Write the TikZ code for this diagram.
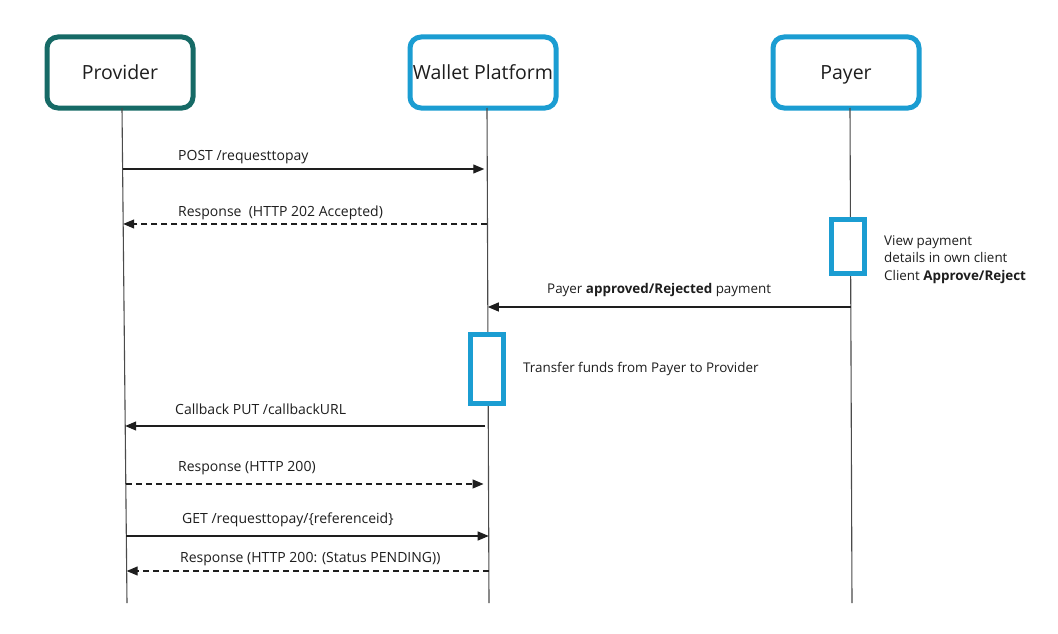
\documentclass[tikz,border=0pt]{standalone}
\usepackage{fontspec}
\setmainfont{Open Sans}
\usetikzlibrary{arrows.meta,calc}
\definecolor{teal}{RGB}{22,106,102}
\definecolor{wblue}{RGB}{27,157,210}
\definecolor{ink}{RGB}{30,30,30}
\tikzset{
  actor/.style={draw=#1,line width=5pt,rounded corners=11pt,fill=white,minimum width=146pt,minimum height=71pt,inner sep=0pt,text height=19pt,text depth=4pt,font=\fontsize{19.5}{22}\selectfont,text=ink},
  life/.style={draw=ink!80,line width=1.1pt},
  msg/.style={draw=ink,line width=1.2pt,-{Triangle[length=11pt,width=9pt]}},
  reply/.style={msg,dash pattern=on 6pt off 4pt},
  lbl/.style={anchor=base west,inner sep=0pt,font=\fontsize{14}{16}\selectfont,text=ink},
  lblb/.style={anchor=base west,inner sep=0pt,font=\fontsize{13.4}{15}\selectfont,text=ink},
  act/.style={draw=wblue,line width=5pt,fill=white},
  note/.style={anchor=north west,inner sep=0pt,align=left,font=\fontsize{13.4}{17.5}\selectfont,text=ink}
}
\begin{document}
\begin{tikzpicture}[x=1pt,y=-1pt]
\useasboundingbox (0,0) rectangle (1058,634);
\fill[white] (0,0) rectangle (1058,634);
% actors
\node[actor=teal] (prov) at (120,72.5) {Provider};
\node[actor=wblue] (wal) at (483,72.5) {Wallet Platform};
\node[actor=wblue] (pay) at (846,72.5) {Payer};
% lifeline ends
\coordinate (ptop) at (122,108); \coordinate (pbot) at (127,603);
\coordinate (wtop) at (487,108); \coordinate (wbot) at (489,603);
\coordinate (ytop) at (850,108); \coordinate (ybot) at (852,603);
\draw[life] (ptop) -- (pbot);
\draw[life] (wtop) -- (wbot);
\draw[life] (ytop) -- (ybot);
% activation boxes
\node[act,minimum width=33pt,minimum height=54pt,inner sep=0pt] (payact) at (847.5,246) {};
\node[act,minimum width=33pt,minimum height=69pt,inner sep=0pt] (walact) at (487,368.5) {};
% message anchor points
\foreach \n/\y in {1/169,2/224,3/307,4/426,5/484,6/536,7/571}{
  \coordinate (p\n) at ($(ptop)!{(\y-108)/495}!(pbot)$);
  \coordinate (w\n) at ($(wtop)!{(\y-108)/495}!(wbot)$);
  \coordinate (y\n) at ($(ytop)!{(\y-108)/495}!(ybot)$);
}
% messages
\draw[msg] (p1) -- ([xshift=-3pt]w1);
\node[lbl] (l1) at (178,160) {POST /requesttopay};
\draw[reply] (w2) -- (p2);
\node[lbl] (l2) at (178,216) {Response\ \ (HTTP 202 Accepted)};
\node[note] (n1) at (884,235) {View payment\\details in own client\\Client \textbf{Approve/Reject}};
\draw[msg] (y3) -- (w3);
\node[lblb] (l3) at (547,293) {Payer \textbf{approved/Rejected} payment};
\node[lblb] (l4t) at (523,372) {Transfer funds from Payer to Provider};
\draw[msg] ([xshift=-3pt]w4) -- (p4);
\node[lbl] (l4) at (175,414) {Callback PUT /callbackURL};
\draw[reply] (p5) -- ([xshift=-5pt]w5);
\node[lbl] (l5) at (178,471) {Response (HTTP 200)};
\draw[msg] (p6) -- (w6);
\node[lbl] (l6) at (182,523) {GET /requesttopay/\{referenceid\}};
\draw[reply] (w7) -- (p7);
\node[lbl] (l7) at (180,562) {Response (HTTP 200: (Status PENDING))};
\end{tikzpicture}
\end{document}
